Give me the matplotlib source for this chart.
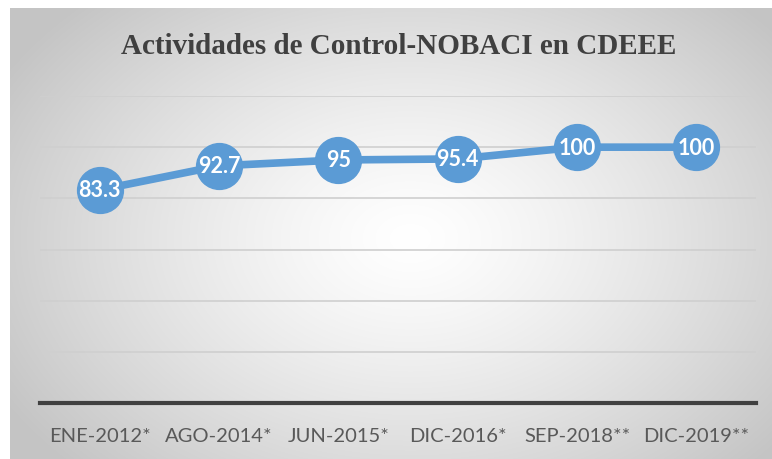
import numpy as np
import matplotlib.pyplot as plt

categories = ['ENE-2012*', 'AGO-2014*', 'JUN-2015*', 'DIC-2016*', 'SEP-2018**', 'DIC-2019**']
values = [83.3, 92.7, 95, 95.4, 100, 100]
title = 'Actividades de Control-NOBACI en CDEEE'

W, H = 772, 460
fig = plt.figure(figsize=(W / 100, H / 100), dpi=100)
fig.patch.set_facecolor('white')

# radial gradient background of the chart area
bg = fig.add_axes([10 / W, 0, 1 - 10 / W, (H - 9) / H])
bg.set_axis_off()
yy, xx = np.mgrid[0:451, 0:762]
cx, cy = 400, 230
d = np.sqrt(((xx - cx) / 470.0) ** 2 + ((yy - cy) / 330.0) ** 2)
d = np.clip(d, 0, 1)
g = 1.0 - 0.23 * d ** 1.3
bg.imshow(np.dstack([g, g, g]), aspect='auto', extent=[0, 1, 0, 1], interpolation='bilinear')
bg.set_xlim(0, 1)
bg.set_ylim(0, 1)

# plot area
ax = fig.add_axes([40 / W, (H - 404) / H, 716 / W, 307 / H])
ax.patch.set_alpha(0)
x = np.arange(len(categories))
ax.set_xlim(-0.5, len(categories) - 0.5)
ax.set_ylim(0, 120)
ax.set_yticks(np.arange(20, 121, 20))
ax.yaxis.grid(True, color='#cfcfcf', linewidth=1.2)
ax.set_axisbelow(True)
for s in ['top', 'right', 'left']:
    ax.spines[s].set_visible(False)
ax.spines['bottom'].set_color('#404040')
ax.spines['bottom'].set_linewidth(3)
ax.tick_params(axis='y', left=False, labelleft=False)
ax.tick_params(axis='x', bottom=False, pad=14)
ax.set_xticks(x)
ax.set_xticklabels(categories, fontsize=14.5, color='#595959', family='Lato')

ax.plot(x, values, color='#5b9bd5', linewidth=5.5, marker='o', markersize=33,
        markerfacecolor='#5b9bd5', markeredgecolor='#5b9bd5', clip_on=False, zorder=3)
for xi, v in zip(x, values):
    ax.text(xi, v, f'{v:g}', ha='center', va='center', color='white',
            fontsize=15.5, fontweight='bold', family='Lato', zorder=4)

fig.text(399 / W, 1 - 47 / H, title, ha='center', va='center', fontsize=21,
         fontweight='bold', color='#404040', family='Liberation Serif')

fig.savefig('out.png', dpi=100)
